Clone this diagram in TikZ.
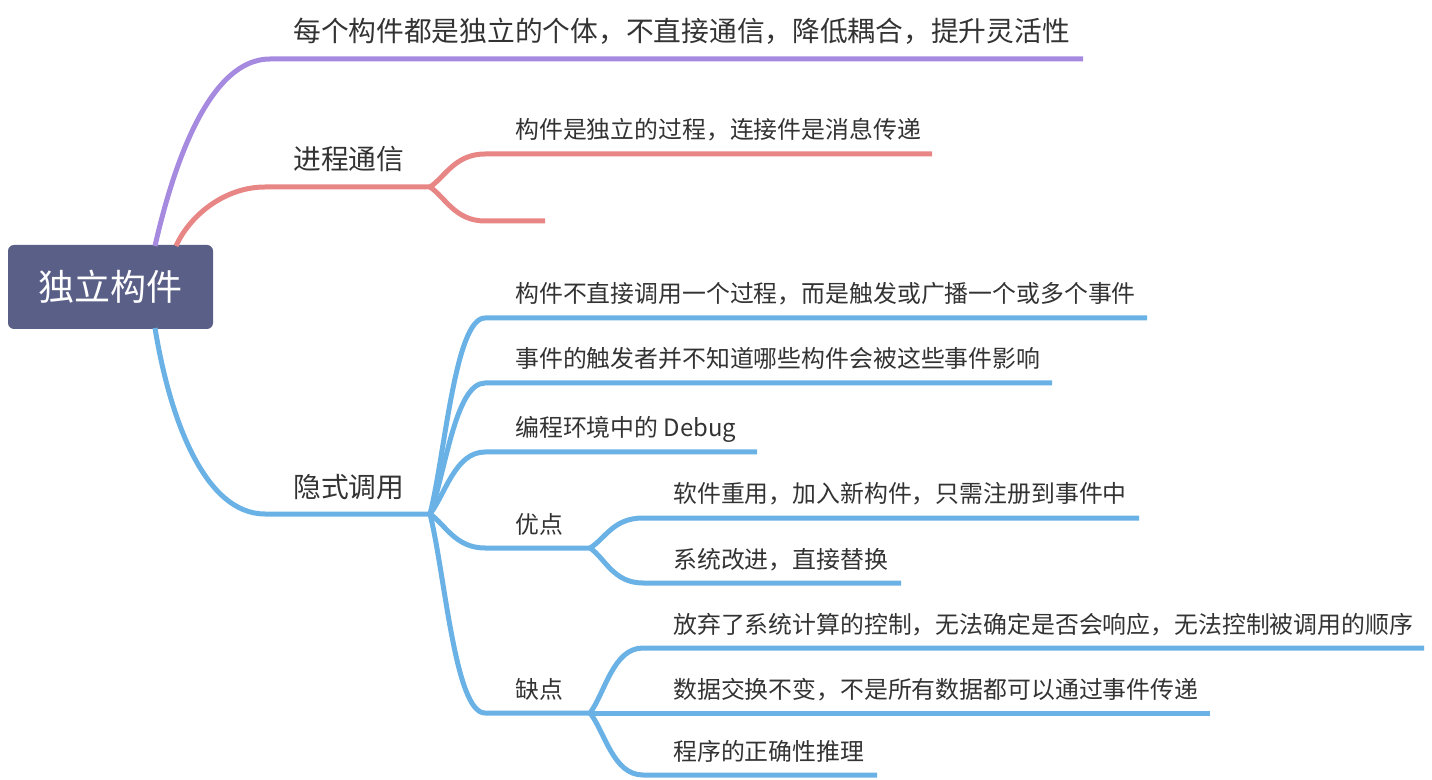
\documentclass[tikz,border=0pt]{standalone}
\usepackage{fontspec}
\setmainfont{Noto Sans CJK SC}
\definecolor{rootfill}{HTML}{595F86}
\definecolor{purp}{HTML}{A68AE0}
\definecolor{redb}{HTML}{E88686}
\definecolor{blueb}{HTML}{6AB2E6}
\definecolor{txt}{HTML}{333333}

\begin{document}
\begin{tikzpicture}[x=0.75pt,y=-0.75pt,
    rootbox/.style={fill=rootfill, rounded corners=4.5pt, text=white, minimum width=153.75pt, minimum height=63pt, font=\fontsize{27}{30}\selectfont},
    topic/.style={anchor=base west, inner sep=0pt, text=txt, font=\fontsize{20.8}{24}\selectfont},
    sub/.style={anchor=base west, inner sep=0pt, text=txt, font=\fontsize{17.9}{21}\selectfont},
    br/.style={line width=3.75pt}]
    \useasboundingbox (0,0) rectangle (1432,780);

    \node[rootbox] (root) at (110.5,287) {独立构件};
    \coordinate (rootN1) at (155,246);
    \coordinate (rootN2) at (176,246);
    \coordinate (rootS) at (155,328);

    \node[topic] (indiv) at (293,42) {每个构件都是独立的个体，不直接通信，降低耦合，提升灵活性};
    \node[topic] (proc) at (293,170) {进程通信};
    \node[topic] (impl) at (293,498) {隐式调用};

    \coordinate (indivL) at (270,59);
    \coordinate (indivR) at (1083,59);
    \coordinate (procL) at (265,187);
    \coordinate (procF) at (430,187);
    \coordinate (implL) at (265,514);
    \coordinate (implF) at (430,514);

    \draw[br, purp] (rootN1) .. controls (170,180) and (205,59) .. (indivL) -- (indivR);
    \draw[br, redb] (rootN2) .. controls (190,215) and (225,187) .. (procL) -- (procF);
    \draw[br, blueb] (rootS) .. controls (170,420) and (205,514) .. (implL) -- (implF);

    \node[sub] (msg) at (515,139) {构件是独立的过程，连接件是消息传递};
    \coordinate (msgL) at (485,154);
    \coordinate (msgR) at (932,154);
    \coordinate (emptyL) at (485,221);
    \coordinate (emptyR) at (545,221);
    \draw[br, redb] (procF) .. controls +(15,-10) and +(-30,0) .. (msgL) -- (msgR);
    \draw[br, redb] (procF) .. controls +(15,10) and +(-30,0) .. (emptyL) -- (emptyR);

    \node[sub] (ev1) at (515,303) {构件不直接调用一个过程，而是触发或广播一个或多个事件};
    \node[sub] (ev2) at (515,368) {事件的触发者并不知道哪些构件会被这些事件影响};
    \node[sub] (dbg) at (515,437) {编程环境中的 Debug};
    \node[sub] (pro) at (515,533) {优点};
    \node[sub] (con) at (515,698) {缺点};
    \coordinate (ev1L) at (485,318);
    \coordinate (ev1R) at (1147,318);
    \coordinate (ev2L) at (485,383);
    \coordinate (ev2R) at (1052,383);
    \coordinate (dbgL) at (485,452);
    \coordinate (dbgR) at (757,452);
    \coordinate (proL) at (485,548);
    \coordinate (proF) at (590,548);
    \coordinate (conL) at (485,713);
    \coordinate (conF) at (590,713);
    \draw[br, blueb] (implF) .. controls +(15,-59) and +(-30,0) .. (ev1L) -- (ev1R);
    \draw[br, blueb] (implF) .. controls +(15,-39) and +(-30,0) .. (ev2L) -- (ev2R);
    \draw[br, blueb] (implF) .. controls +(15,-19) and +(-30,0) .. (dbgL) -- (dbgR);
    \draw[br, blueb] (implF) .. controls +(15,10) and +(-30,0) .. (proL) -- (proF);
    \draw[br, blueb] (implF) .. controls +(15,60) and +(-30,0) .. (conL) -- (conF);

    \node[sub] (reuse) at (673,503) {软件重用，加入新构件，只需注册到事件中};
    \node[sub] (swap) at (673,568) {系统改进，直接替换};
    \coordinate (reuseL) at (643,518);
    \coordinate (reuseR) at (1139,518);
    \coordinate (swapL) at (643,583);
    \coordinate (swapR) at (901,583);
    \draw[br, blueb] (proF) .. controls +(15,-9) and +(-30,0) .. (reuseL) -- (reuseR);
    \draw[br, blueb] (proF) .. controls +(15,10) and +(-30,0) .. (swapL) -- (swapR);

    \node[sub] (ctrl) at (673,633) {放弃了系统计算的控制，无法确定是否会响应，无法控制被调用的顺序};
    \node[sub] (data) at (673,698) {数据交换不变，不是所有数据都可以通过事件传递};
    \node[sub] (proof) at (673,760) {程序的正确性推理};
    \coordinate (ctrlL) at (643,648);
    \coordinate (ctrlR) at (1424,648);
    \coordinate (dataR) at (1210,713);
    \coordinate (proofL) at (643,775);
    \coordinate (proofR) at (877,775);
    \draw[br, blueb] (conF) .. controls +(15,-20) and +(-30,0) .. (ctrlL) -- (ctrlR);
    \draw[br, blueb] (conF) -- (dataR);
    \draw[br, blueb] (conF) .. controls +(15,19) and +(-30,0) .. (proofL) -- (proofR);
\end{tikzpicture}
\end{document}
